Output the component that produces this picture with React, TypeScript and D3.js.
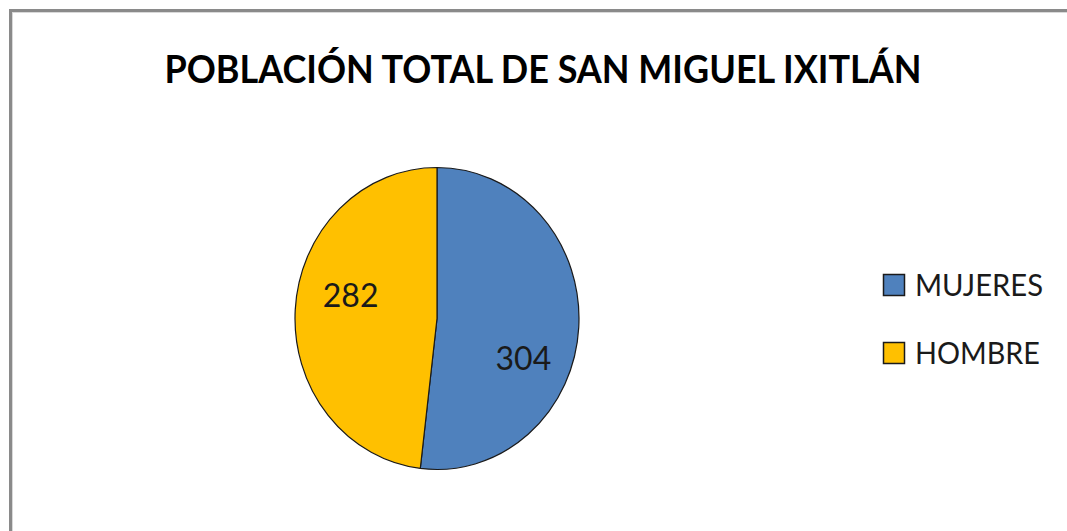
import React from "react";
import * as d3 from "d3";

const categories = ["MUJERES", "HOMBRE"];
const values = [304, 282];
const colors = ["#4F81BD", "#FFC000"];
const titleText = "POBLACIÓN TOTAL DE SAN MIGUEL IXITLÁN";

// label nudges (svg px) relative to the slice centroid
const labelNudgeY = [35, -18];

export default function App() {
  const W = 1067;
  const H = 531;
  const cx = 437;
  const cy = 318.5;
  const ry = 151;
  const rx = 142;
  const sx = rx / ry;

  const pie = d3.pie<number>().sort(null).value((d) => d);
  const arcs = pie(values);
  const arc = d3.arc<d3.PieArcDatum<number>>().innerRadius(0).outerRadius(ry);
  const labelArc = d3.arc<d3.PieArcDatum<number>>().innerRadius(92).outerRadius(92);

  return (
    <svg
      width={W}
      height={H}
      style={{ position: "fixed", left: 0, top: 0, background: "#fff" }}
    >
      <rect x={0} y={0} width={W} height={H} fill="#fff" />
      {/* frame */}
      <line x1={10} y1={10.5} x2={W} y2={10.5} stroke="#8a8a8a" strokeWidth={3} />
      <line x1={10.5} y1={9} x2={10.5} y2={H} stroke="#8a8a8a" strokeWidth={3} />
      <line x1={12} y1={12.5} x2={W} y2={12.5} stroke="#d9d9d9" strokeWidth={1} />
      <line x1={12.5} y1={12} x2={12.5} y2={H} stroke="#d9d9d9" strokeWidth={1} />

      <text
        x={543}
        y={83}
        textAnchor="middle"
        fontFamily="Lato, 'Open Sans', sans-serif"
        fontWeight="bold"
        fontSize={38}
        fill="#000"
        textLength={757}
        lengthAdjust="spacingAndGlyphs"
      >
        {titleText}
      </text>

      <g transform={`translate(${cx},${cy}) scale(${sx},1)`}>
        {arcs.map((a, i) => (
          <path
            key={categories[i]}
            d={arc(a) || ""}
            fill={colors[i]}
            stroke="#1a1a1a"
            strokeWidth={1.2}
            vectorEffect="non-scaling-stroke"
          />
        ))}
      </g>
      {arcs.map((a, i) => {
        const [lx, ly] = labelArc.centroid(a);
        return (
          <text
            key={"l" + i}
            x={cx + lx * sx}
            y={cy + ly + labelNudgeY[i]}
            dy="0.36em"
            textAnchor="middle"
            fontFamily="Lato, 'Open Sans', sans-serif"
            fontSize={32}
            fill="#1a1a1a"
          >
            {values[i]}
          </text>
        );
      })}

      {categories.map((c, i) => (
        <g key={"lg" + c} transform={`translate(883,${274 + i * 68})`}>
          <rect x={0.5} y={0.5} width={21} height={21} fill={colors[i]} stroke="#1a1a1a" strokeWidth={1.5} />
          <text
            x={32}
            y={22}
            fontFamily="Lato, 'Open Sans', sans-serif"
            fontSize={30}
            fill="#1a1a1a"
            textLength={i === 0 ? 128 : 125}
            lengthAdjust="spacingAndGlyphs"
          >
            {c}
          </text>
        </g>
      ))}
    </svg>
  );
}
